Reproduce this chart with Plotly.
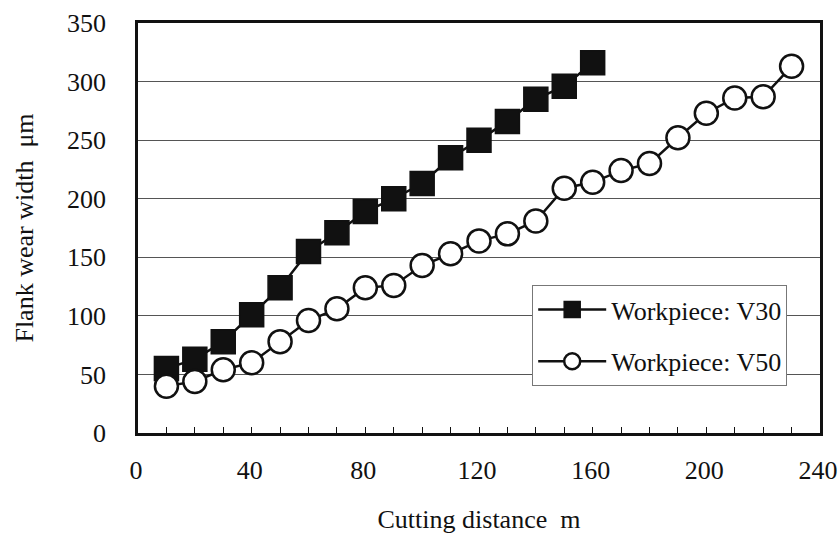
import plotly.graph_objects as go

dist_v30 = [10, 20, 30, 40, 50, 60, 70, 80, 90, 100, 110, 120, 130, 140, 150, 160]
wear_v30 = [55, 63, 78, 101, 124, 155, 171, 189, 200, 213, 235, 250, 266, 285, 296, 316]
dist_v50 = [10, 20, 30, 40, 50, 60, 70, 80, 90, 100, 110, 120, 130, 140, 150, 160,
            170, 180, 190, 200, 210, 220, 230]
wear_v50 = [40, 44, 54, 60, 78, 96, 106, 124, 126, 143, 153, 164, 170, 181, 209, 214,
            224, 230, 252, 273, 286, 287, 313]
x_ticks = [0, 40, 80, 120, 160, 200, 240]
y_ticks = [0, 50, 100, 150, 200, 250, 300, 350]

FONT = "Liberation Serif"
INK = "#111111"

fig = go.Figure()
fig.add_trace(go.Scatter(
    x=dist_v30, y=wear_v30, mode="lines+markers", name="Workpiece: V30",
    legendgroup="a",
    line=dict(color=INK, width=2.5),
    marker=dict(symbol="square", size=24, color=INK, line=dict(color=INK, width=1.5)),
))
fig.add_trace(go.Scatter(
    x=dist_v50, y=wear_v50, mode="lines+markers", name="Workpiece: V50",
    legendgroup="b",
    line=dict(color=INK, width=2.5),
    marker=dict(symbol="circle", size=23, color="white", line=dict(color=INK, width=2.5)),
))

fig.update_layout(
    width=840, height=542,
    margin=dict(l=138, r=20, t=23, b=109, autoexpand=False),
    paper_bgcolor="white", plot_bgcolor="white",
    font=dict(family=FONT, size=26, color=INK),
    showlegend=True,
    legend=dict(
        x=0.578, y=0.361, xanchor="left", yanchor="top",
        bgcolor="white", bordercolor="#777777", borderwidth=1,
        font=dict(family=FONT, size=26, color=INK),
        tracegroupgap=15, itemwidth=68, entrywidth=310, entrywidthmode="pixels",
    ),
)
fig.update_xaxes(
    range=[0, 240], tickvals=x_ticks, ticktext=[str(v) for v in x_ticks],
    showgrid=False, zeroline=False,
    showline=True, linecolor=INK, linewidth=2.5, mirror=True,
    ticks="inside", ticklen=6, tickcolor=INK, tickwidth=1,
    minor=dict(dtick=10, ticks="inside", ticklen=6, tickcolor=INK, tickwidth=1),
    ticklabelstandoff=12, ticklabeloverflow="allow", ticklabelshift=-2,
    tickfont=dict(size=26, family=FONT),
    title=dict(text="Cutting distance  m", font=dict(size=26, family=FONT), standoff=26),
)
fig.update_yaxes(
    range=[0, 350], tickvals=y_ticks, ticktext=[str(v) for v in y_ticks],
    showgrid=True, gridcolor="#555555", gridwidth=1, zeroline=False,
    showline=True, linecolor=INK, linewidth=2.5, mirror=True,
    ticks="", ticklabelstandoff=24,
    tickfont=dict(size=26, family=FONT),
    title=dict(text="Flank wear width  μm", font=dict(size=26, family=FONT), standoff=26),
)

fig.write_html(
    "out.html",
    config={"displayModeBar": False},
    post_script="document.body.style.margin='0';document.body.style.overflow='hidden';",
)
